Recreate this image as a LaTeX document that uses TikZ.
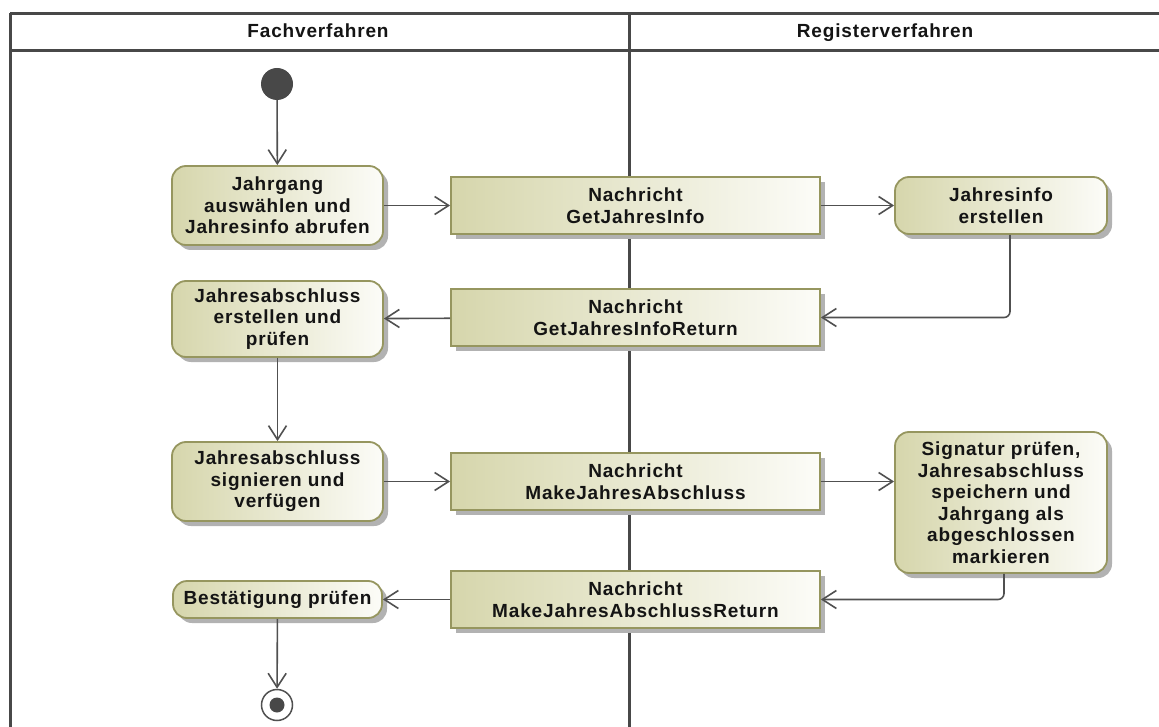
\documentclass[tikz,border=0pt]{standalone}
\usepackage{fontspec}
\setmainfont[LetterSpace=4.5]{Liberation Sans}
\usetikzlibrary{arrows.meta,shadows}
\definecolor{boxl}{RGB}{214,214,172}
\definecolor{boxr}{RGB}{252,252,248}
\definecolor{bord}{RGB}{150,150,95}
\definecolor{shad}{RGB}{178,178,178}
\definecolor{ln}{RGB}{80,80,80}
\definecolor{fr}{RGB}{72,72,72}
\definecolor{txt}{RGB}{20,20,20}
\tikzset{
  lbl/.style={font=\fontsize{19}{21.5}\selectfont\bfseries, text=txt, align=center, inner sep=0pt},
  act/.style={lbl, draw=bord, line width=1.8pt, rounded corners=14pt, left color=boxl, right color=boxr,
    drop shadow={shadow xshift=5pt, shadow yshift=-5pt, fill=shad, opacity=1}},
  msg/.style={lbl, draw=bord, line width=1.8pt, left color=boxl, right color=boxr,
    drop shadow={shadow xshift=5pt, shadow yshift=-5pt, fill=shad, opacity=1}},
  conn/.style={draw=ln, line width=1.6pt, -{Straight Barb[length=14pt,width=18pt]}},
  lanebar/.style={draw=fr, line width=3pt},
}
\begin{document}
\begin{tikzpicture}[x=1pt,y=-1pt]
\useasboundingbox (0,0) rectangle (1159,727);
\clip (0,0) rectangle (1159,727);
% swimlane frame
\draw[lanebar] (10,13.5) -- (1175,13.5);
\draw[lanebar] (10,50.5) -- (1175,50.5);
\draw[lanebar] (10,13.5) -- (10,740);
\draw[lanebar] (629,13.5) -- (629,740);
\node[lbl, anchor=base] (hdrL) at (318,38) {Fachverfahren};
\node[lbl, anchor=base] (hdrR) at (885,38) {Registerverfahren};
% start / end
\node[circle, fill=fr, minimum size=32pt, inner sep=0pt] (start) at (277,84) {};
\node[circle, draw=ln, line width=1.5pt, fill=white, minimum size=31pt, inner sep=0pt] (stop) at (277,705) {};
\node[circle, fill=fr, minimum size=15pt, inner sep=0pt] (stopdot) at (stop.center) {};
% actions left lane
\node[act, minimum width=211pt, minimum height=79pt] (A1) at (277.5,205.5) {Jahrgang\\auswählen und\\Jahresinfo abrufen};
\node[act, minimum width=211pt, minimum height=76pt] (A2) at (277.5,319) {Jahresabschluss\\erstellen und\\prüfen};
\node[act, minimum width=211pt, minimum height=79pt] (A3) at (277.5,481.5) {Jahresabschluss\\signieren und\\verfügen};
\node[act, minimum width=209pt, minimum height=37pt] (A4) at (277.5,599.5) {Bestätigung prüfen};
% messages
\node[msg, minimum width=369pt, minimum height=57pt] (B1) at (635.5,205.5) {Nachricht\\GetJahresInfo};
\node[msg, minimum width=369pt, minimum height=57pt] (B2) at (635.5,317.5) {Nachricht\\GetJahresInfoReturn};
\node[msg, minimum width=369pt, minimum height=57pt] (B3) at (635.5,481.5) {Nachricht\\MakeJahresAbschluss};
\node[msg, minimum width=369pt, minimum height=57pt] (B4) at (635.5,599.5) {Nachricht\\MakeJahresAbschlussReturn};
% actions right lane
\node[act, minimum width=212pt, minimum height=57pt] (C1) at (1001,205.5) {Jahresinfo\\erstellen};
\node[act, minimum width=212pt, minimum height=141pt] (C2) at (1001,502.5) {Signatur prüfen,\\Jahresabschluss\\speichern und\\Jahrgang als\\abgeschlossen\\markieren};
% connectors
\coordinate (k1) at (1010,315);
\coordinate (k2) at (1004,597);
\draw[conn] (start) -- (A1);
\draw[conn] (A1) -- (B1);
\draw[conn] (B1) -- (C1);
\draw[conn, rounded corners=6pt] (C1.south -| k1) |- (B2.east);
\draw[conn] (B2) -- (A2);
\draw[conn] (A2) -- (A3);
\draw[conn] (A3) -- (B3);
\draw[conn] (B3.east) -- (C2.west |- B3.east);
\draw[conn, rounded corners=6pt] (C2.south -| k2) |- (B4.east);
\draw[conn] (B4) -- (A4);
\draw[conn] (A4) -- (stop);
\end{tikzpicture}
\end{document}
